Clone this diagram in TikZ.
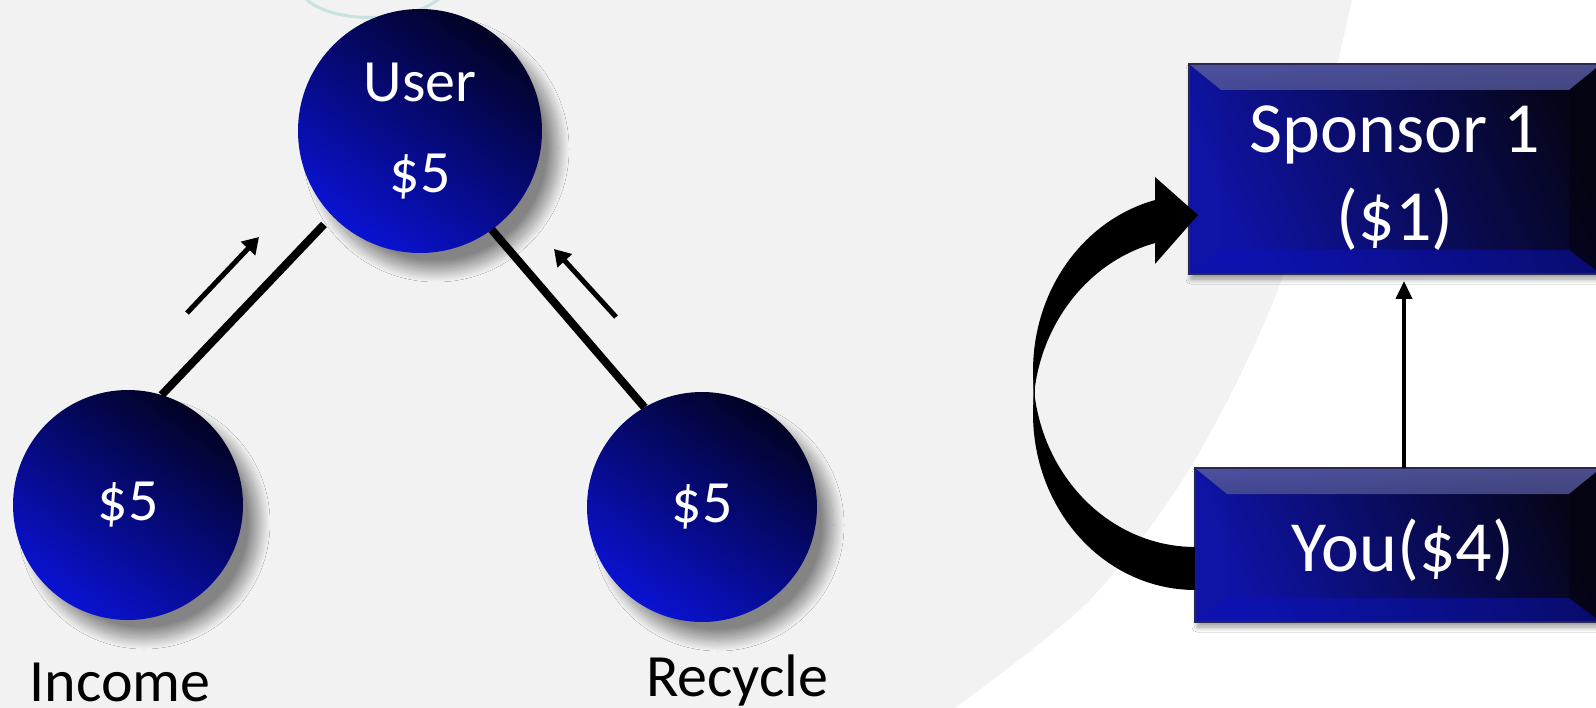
\documentclass[tikz,border=0pt]{standalone}
\usepackage{fontspec}
\setmainfont{Carlito}
\usetikzlibrary{arrows.meta,shadows.blur}
\definecolor{bg}{RGB}{242,242,242}
\definecolor{navyD}{RGB}{2,2,36}
\definecolor{blueB}{RGB}{10,18,210}
\definecolor{boxD}{RGB}{5,5,26}
\definecolor{boxB}{RGB}{15,19,165}
\definecolor{bevTop}{RGB}{88,92,160}
\definecolor{bevTopB}{RGB}{12,12,62}
\definecolor{bevBot}{RGB}{12,18,185}
\definecolor{bevLeft}{RGB}{20,26,175}
\definecolor{bevEdge}{RGB}{92,96,205}
\definecolor{boxLine}{RGB}{40,40,80}
\definecolor{tealfaint}{RGB}{200,226,226}
\begin{document}
\begin{tikzpicture}[x=1pt,y=-1pt,
  ball/.style={circle, inner sep=0pt, outer sep=0pt,
    top color=navyD, bottom color=blueB, shading angle=-35,
    text=white, align=center, font=\fontsize{60}{91}\selectfont,
    blur shadow={shadow xshift=16pt, shadow yshift=-18pt, shadow blur radius=11pt,
      shadow blur steps=30, shadow opacity=45}},
  lbl/.style={inner sep=0pt, outer sep=0pt, text=black, font=\fontsize{60}{72}\selectfont},
  panel/.style={rectangle, inner sep=0pt, outer sep=0pt,
    top color=boxD, bottom color=boxB, shading angle=-65,
    draw=boxLine, line width=1.5pt,
    blur shadow={shadow xshift=2pt, shadow yshift=-5pt, shadow blur radius=5pt,
      shadow blur steps=12, shadow opacity=40},
    path picture={
      \shade[top color=bevTop, bottom color=bevTopB, fill opacity=0.85]
        (path picture bounding box.north west) -- (path picture bounding box.north east)
        -- ([xshift=-32pt,yshift=-26pt]path picture bounding box.north east)
        -- ([xshift=32pt,yshift=-26pt]path picture bounding box.north west) -- cycle;
      \fill[bevBot, fill opacity=0.5]
        (path picture bounding box.south west) -- (path picture bounding box.south east)
        -- ([xshift=-32pt,yshift=24pt]path picture bounding box.south east)
        -- ([xshift=32pt,yshift=24pt]path picture bounding box.south west) -- cycle;
      \fill[bevLeft, fill opacity=0.15]
        (path picture bounding box.north west) -- ([xshift=32pt,yshift=-26pt]path picture bounding box.north west)
        -- ([xshift=32pt,yshift=24pt]path picture bounding box.south west) -- (path picture bounding box.south west) -- cycle;
      \fill[black, fill opacity=0.3]
        (path picture bounding box.north east) -- ([xshift=-32pt,yshift=-26pt]path picture bounding box.north east)
        -- ([xshift=-32pt,yshift=24pt]path picture bounding box.south east) -- (path picture bounding box.south east) -- cycle;
      \draw[bevEdge, line width=2pt] (path picture bounding box.south west) -- (path picture bounding box.south east);
    }},
  paneltext/.style={inner sep=0pt, outer sep=0pt, text=white, align=center, font=\fontsize{72}{88}\selectfont},
  bar/.style={line width=8pt, black},
  flow/.style={line width=5pt, black, -{Triangle[length=16pt,width=19pt]}},
  vflow/.style={line width=4pt, black, -{Triangle[length=18pt,width=16pt]}}
]
\useasboundingbox (0,0) rectangle (1596,708);
\clip (0,0) rectangle (1596,708);
% background
\fill[bg] (0,0) rectangle (1596,708);
\fill[white] plot[smooth] coordinates {(1352,0) (1285,270) (1195,460) (1090,600) (955,708)}
  -- (1600,708) -- (1600,0) -- cycle;
\draw[tealfaint, line width=3pt] (305,-2) .. controls (330,24) and (410,24) .. (440,-2);

% circles
\node[ball, minimum size=244pt] (user) at (420,131) {User\\\$5};
\node[ball, minimum size=230pt] (income) at (128,505) {\$5};
\node[ball, minimum size=230pt] (recycle) at (702,507) {\$5};
\node[lbl, anchor=base] (incomeL) at (120,701) {Income};
\node[lbl, anchor=base west] (recycleL) at (646,696) {Recycle};

% connectors
\draw[bar, shorten >=12pt] (income.73.6) -- (user.224);
\draw[bar] (user.306.6) -- (recycle.120.8);
\coordinate (la1) at (187,313);
\coordinate (la2) at (259,237);
\draw[flow] (la1) -- (la2);
\coordinate (ra1) at (616,317);
\coordinate (ra2) at (554,249);
\draw[flow] (ra1) -- (ra2);

% boxes
\node[panel, minimum width=412pt, minimum height=210pt] (sponsor) at (1395,169) {};
\node[paneltext] (sponsorTxt) at (1395,178) {Sponsor 1\\(\$1)};
\node[panel, minimum width=406pt, minimum height=154pt] (you) at (1398,545) {};
\node[paneltext] (youTxt) at (1403,550) {You(\$4)};

% curved arrow
\fill[black]
  plot[domain=90:187, samples=40, variable=\t] ({1195+162*cos(\t)}, {413.8+176.2*sin(\t)})
  -- plot[domain=173:255.7, samples=40, variable=\t] ({1195+162*cos(\t)}, {370.8+176.2*sin(\t)})
  -- (1155,177) -- (1198,215) -- (1155,264)
  -- plot[domain=255.7:187, samples=40, variable=\t] ({1195+162*cos(\t)}, {413.8+176.2*sin(\t)})
  -- plot[domain=173:90, samples=40, variable=\t] ({1195+162*cos(\t)}, {370.8+176.2*sin(\t)})
  -- cycle;
\draw[black, line width=1.5pt]
  plot[domain=160:200, samples=20, variable=\t] ({1196+162*cos(\t)}, {392.3+176.2*sin(\t)});

% vertical arrow
\draw[vflow] ([xshift=6pt]you.north) -- ([xshift=9pt,yshift=-7pt]sponsor.south);
\end{tikzpicture}
\end{document}
